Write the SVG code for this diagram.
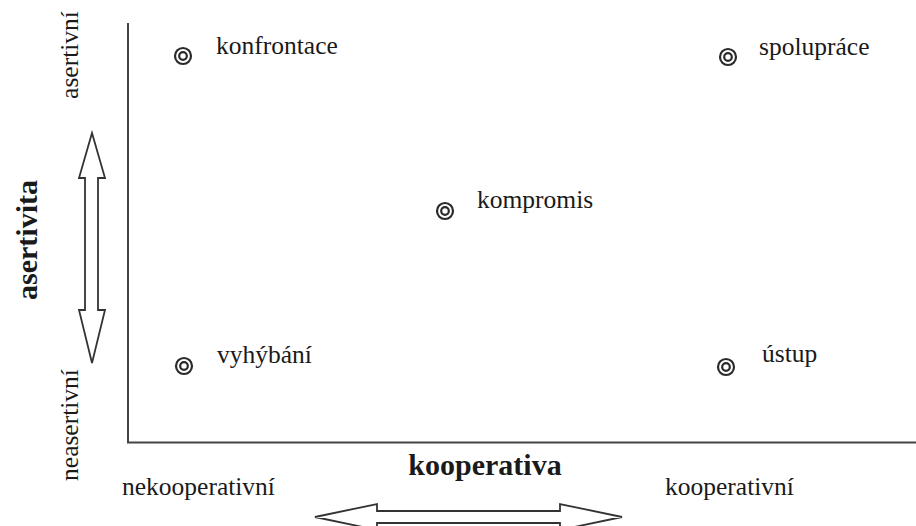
<svg xmlns="http://www.w3.org/2000/svg" width="916" height="526" viewBox="0 0 916 526">
<style>
text{font-family:"Liberation Serif","Times New Roman",serif;fill:#1a1a1a}
.lbl{font-size:25.5px}
.bold{font-size:30px;font-weight:bold}
.mark{fill:none;stroke:#2a2a2a;stroke-width:2.2}
.axis{fill:none;stroke:#444;stroke-width:2}
.arr{fill:#fff;stroke:#333;stroke-width:1.8;stroke-linejoin:miter}
</style>
<rect width="916" height="526" fill="#fff"/>
<g id="axes">
<path class="axis" d="M128 23 V442.5 H916"/>
</g>
<g id="connectors">
<polygon class="arr" points="92,133 105,178 98,178 98,310 105,310 92,363 79,310 85,310 85,178 79,178"/>
<polygon class="arr" points="315,517 377,504 377,511 560,511 560,504 622,517 560,530 560,523 377,523 377,530"/>
</g>
<g id="axis-labels">
<text class="lbl" transform="translate(78,55) rotate(-90)" text-anchor="middle">asertivní</text>
<text class="lbl" transform="translate(78,425) rotate(-90)" text-anchor="middle">neasertivní</text>
<text class="bold" transform="translate(37,240) rotate(-90)" text-anchor="middle">asertivita</text>
<text class="bold" x="485" y="475" text-anchor="middle">kooperativa</text>
<text class="lbl" x="122" y="495">nekooperativní</text>
<text class="lbl" x="665" y="495">kooperativní</text>
</g>
<g id="konfrontace">
<circle class="mark" cx="183" cy="56" r="8"/><circle class="mark" cx="183" cy="56" r="3.8"/>
<text class="lbl" x="216" y="54">konfrontace</text>
</g>
<g id="spoluprace">
<circle class="mark" cx="728" cy="57" r="8"/><circle class="mark" cx="728" cy="57" r="3.8"/>
<text class="lbl" x="759" y="55">spolupráce</text>
</g>
<g id="kompromis">
<circle class="mark" cx="445" cy="211" r="8"/><circle class="mark" cx="445" cy="211" r="3.8"/>
<text class="lbl" x="477" y="208">kompromis</text>
</g>
<g id="vyhybani">
<circle class="mark" cx="184" cy="366" r="8"/><circle class="mark" cx="184" cy="366" r="3.8"/>
<text class="lbl" x="217" y="363">vyhýbání</text>
</g>
<g id="ustup">
<circle class="mark" cx="726" cy="367" r="8"/><circle class="mark" cx="726" cy="367" r="3.8"/>
<text class="lbl" x="762" y="362">ústup</text>
</g>
</svg>
